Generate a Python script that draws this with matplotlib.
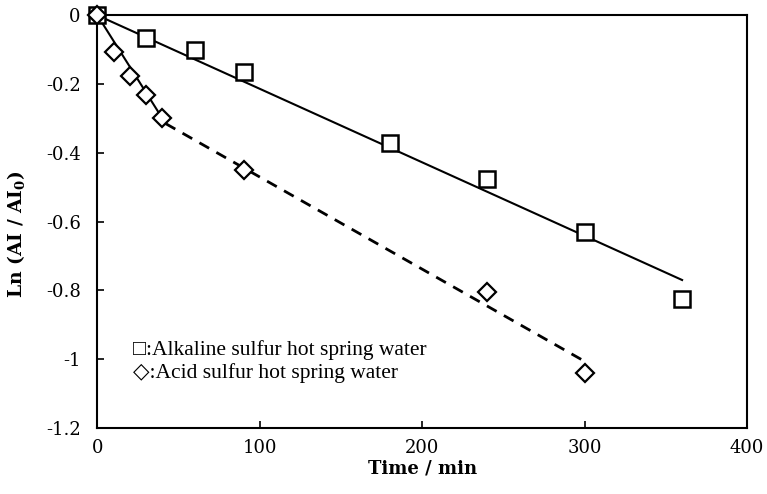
import matplotlib
matplotlib.use("Agg")
import matplotlib.pyplot as plt

plt.rcParams['font.family'] = ['DejaVu Serif']
plt.rcParams['mathtext.fontset'] = 'dejavuserif'
plt.rcParams['axes.unicode_minus'] = False

# Experimental data
t_alk = [0, 30, 60, 90, 180, 240, 300, 360]
ln_alk = [0, -0.067, -0.101, -0.164, -0.371, -0.476, -0.630, -0.826]
t_acid = [0, 10, 20, 30, 40, 90, 240, 300]
ln_acid = [0, -0.108, -0.176, -0.232, -0.300, -0.450, -0.805, -1.041]

# Fitted lines (end points)
fit_alk_t = [0, 360]
fit_alk_y = [0, -0.77]
fit_acid1_t = [0, 42]
fit_acid1_y = [0, -0.315]
fit_acid2_t = [42, 302]
fit_acid2_y = [-0.315, -1.012]

xticks = [0, 100, 200, 300, 400]
yticks = [0, -0.2, -0.4, -0.6, -0.8, -1, -1.2]
ytick_labels = ['0', '-0.2', '-0.4', '-0.6', '-0.8', '-1', '-1.2']

fig = plt.figure(figsize=(7.67, 4.94), dpi=100)
ax = fig.add_axes([0.127, 0.134, 0.847, 0.835])

ax.plot(fit_alk_t, fit_alk_y, color='black', linewidth=1.5)
ax.plot(fit_acid1_t, fit_acid1_y, color='black', linewidth=1.5)
ax.plot(fit_acid2_t, fit_acid2_y, color='black', linewidth=2, linestyle=(0, (4, 3)))

ax.plot(t_alk, ln_alk, linestyle='none', marker='s', markersize=12, clip_on=False,
        markerfacecolor='white', markeredgecolor='black', markeredgewidth=1.8, zorder=3)
ax.plot(t_acid, ln_acid, linestyle='none', marker='D', markersize=9, clip_on=False,
        markerfacecolor='white', markeredgecolor='black', markeredgewidth=1.6, zorder=4)

ax.set_xlim(0, 400)
ax.set_ylim(-1.2, 0)
ax.set_xticks(xticks)
ax.set_xticklabels([str(v) for v in xticks])
ax.set_yticks(yticks)
ax.set_yticklabels(ytick_labels)
ax.tick_params(direction='in', length=5, width=1.2, labelsize=13, pad=8)
ax.tick_params(axis='y', pad=12)
for s in ax.spines.values():
    s.set_linewidth(1.5)

ax.set_xlabel('Time / min', fontsize=13, fontweight='bold', labelpad=2)
ax.set_ylabel(r'Ln (AI / AI$_\mathbf{0}$)', fontsize=13.5, fontweight='bold', labelpad=9)
ax.yaxis.set_label_coords(-0.108, 0.47)

# Legend written as text
ax.text(0.055, 0.189, '\u25a1:Alkaline sulfur hot spring water', transform=ax.transAxes,
        fontsize=15.5, family=['Liberation Serif', 'DejaVu Sans'], va='center')
ax.text(0.055, 0.133, '\u25c7:Acid sulfur hot spring water', transform=ax.transAxes,
        fontsize=15.5, family=['Liberation Serif', 'DejaVu Sans'], va='center')

plt.savefig('out.png', dpi=100)
